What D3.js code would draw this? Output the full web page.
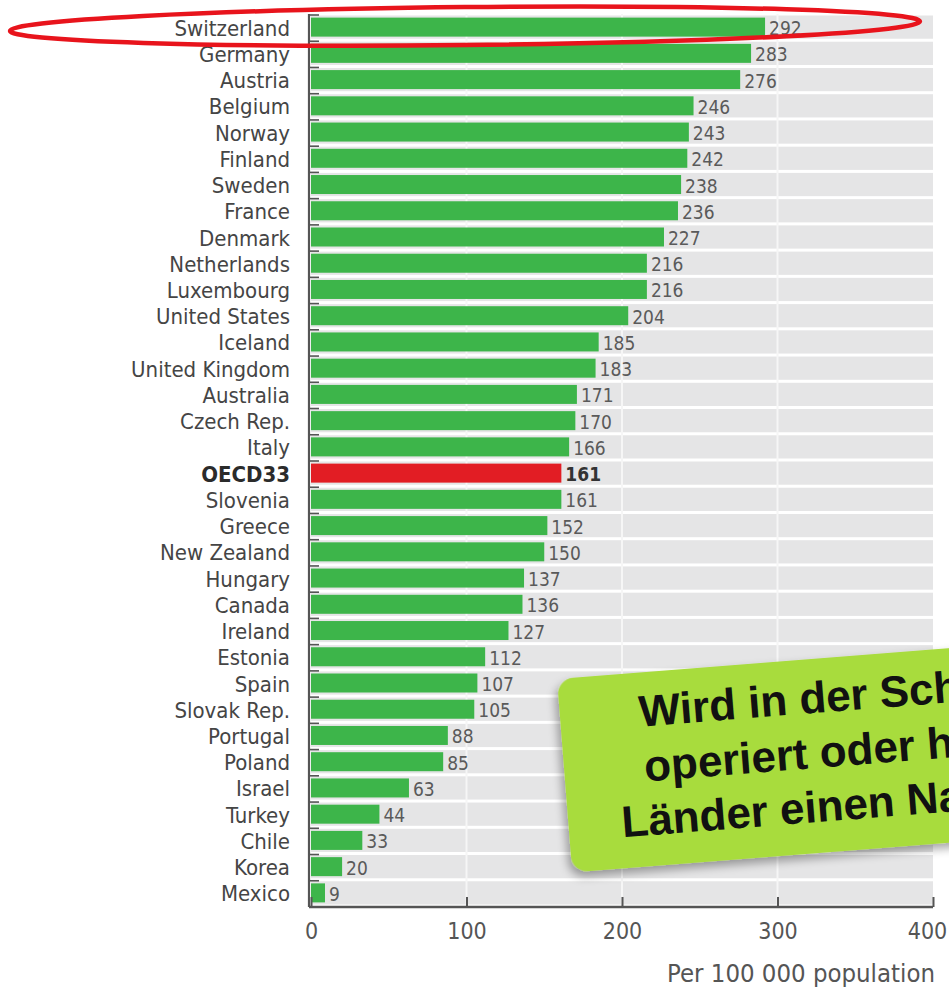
<!DOCTYPE html>
<html>
<head>
<meta charset="utf-8">
<script src="https://cdn.jsdelivr.net/npm/d3@7"></script>
<style>
  html, body { margin: 0; padding: 0; background: #ffffff; }
  svg { display: block; }
</style>
</head>
<body>
<svg id="chart" width="949" height="990"></svg>
<script>
const countries = ["Switzerland","Germany","Austria","Belgium","Norway","Finland","Sweden","France","Denmark","Netherlands","Luxembourg","United States","Iceland","United Kingdom","Australia","Czech Rep.","Italy","OECD33","Slovenia","Greece","New Zealand","Hungary","Canada","Ireland","Estonia","Spain","Slovak Rep.","Portugal","Poland","Israel","Turkey","Chile","Korea","Mexico"];
const values = [292,283,276,246,243,242,238,236,227,216,216,204,185,183,171,170,166,161,161,152,150,137,136,127,112,107,105,88,85,63,44,33,20,9];
const highlight = "OECD33";
const xTicks = [0,100,200,300,400];
const axisTitle = "Per 100 000 population";
const noteLines = ["Wird in der Schweiz","operiert oder haben","Länder einen Nachholbedarf?"];

const svg = d3.select("#chart");
const condensed = "'DejaVu Sans Condensed','Liberation Sans Narrow',sans-serif";

const x = d3.scaleLinear().domain([0, 400]).range([311, 933]);
const y = d3.scaleBand().domain(countries).range([14, 906]).paddingInner(0);
const step = y.bandwidth();
const barH = 19;

const defs = svg.append("defs");
const f = defs.append("filter").attr("id","shadow").attr("x","-20%").attr("y","-20%").attr("width","140%").attr("height","150%");
f.append("feDropShadow").attr("dx",-3).attr("dy",5).attr("stdDeviation",5).attr("flood-color","#000").attr("flood-opacity",0.35);

// gray row bands
svg.append("g").selectAll("rect").data(countries).join("rect")
  .attr("x", x(0)).attr("width", x(400) - x(0))
  .attr("y", d => y(d) + 1.5).attr("height", step - 3)
  .attr("fill", "#e5e5e6");

// white vertical grid lines
svg.append("g").selectAll("line").data(xTicks.slice(1, -1)).join("line")
  .attr("x1", d => x(d)).attr("x2", d => x(d))
  .attr("y1", 14).attr("y2", 906)
  .attr("stroke", "#f6f6f6").attr("stroke-width", 2);

// bars
svg.append("g").selectAll("rect").data(countries).join("rect")
  .attr("x", x(0))
  .attr("y", d => y(d) + (step - barH) / 2)
  .attr("height", barH)
  .attr("width", (d, i) => x(values[i]) - x(0))
  .attr("fill", d => d === highlight ? "#e21d24" : "#3db54a");

// value labels
svg.append("g").selectAll("text").data(countries).join("text")
  .attr("x", (d, i) => x(values[i]) + 4)
  .attr("y", d => y(d) + step / 2 + 1)
  .attr("dominant-baseline", "central")
  .attr("font-family", condensed)
  .attr("font-size", 19)
  .attr("font-weight", d => d === highlight ? "bold" : "normal")
  .attr("fill", d => d === highlight ? "#333" : "#5a5a5a")
  .text((d, i) => values[i]);

// country labels
svg.append("g").selectAll("text").data(countries).join("text")
  .attr("x", 290)
  .attr("y", d => y(d) + step / 2 + 1)
  .attr("text-anchor", "end")
  .attr("dominant-baseline", "central")
  .attr("font-family", condensed)
  .attr("font-size", 22)
  .attr("font-weight", d => d === highlight ? "bold" : "normal")
  .attr("fill", d => d === highlight ? "#2b2b2b" : "#454545")
  .text(d => d);

// left axis with row-boundary ticks
const leftAxis = svg.append("g");
leftAxis.append("line").attr("x1", 309).attr("x2", 309).attr("y1", 14).attr("y2", 907)
  .attr("stroke", "#555").attr("stroke-width", 2.2);
leftAxis.selectAll("line.rt").data(countries).join("line").attr("class","rt")
  .attr("x1", 309).attr("x2", 319)
  .attr("y1", d => y(d) + 1).attr("y2", d => y(d) + 1)
  .attr("stroke", "#555").attr("stroke-width", 1.6);

// bottom axis
const bottomAxis = d3.axisBottom(x).tickValues(xTicks).tickSize(0).tickPadding(16).tickFormat(d3.format("d"));
const gx = svg.append("g").attr("transform", "translate(0,907)").call(bottomAxis);
gx.select(".domain").attr("stroke", "#555").attr("stroke-width", 2.5).attr("d", `M309,0H933`);
gx.selectAll(".tick line").remove();
gx.selectAll(".tick").append("line").attr("y1", 0).attr("y2", -10).attr("stroke", "#555").attr("stroke-width", 2);
gx.selectAll(".tick text").attr("font-family", condensed).attr("font-size", 23).attr("fill", "#555")
  .attr("dx", d => d === 400 ? -6 : 0);

svg.append("text").attr("x", 935).attr("y", 982).attr("text-anchor", "end")
  .attr("font-family", condensed).attr("font-size", 25.5).attr("fill", "#555")
  .text(axisTitle);

// red ellipse highlighting Switzerland
svg.append("ellipse")
  .attr("cx", 465).attr("cy", y("Switzerland") + step / 2 - 1)
  .attr("rx", 455).attr("ry", 19)
  .attr("transform", `rotate(-0.6,465,${y("Switzerland") + step / 2})`)
  .attr("fill", "none").attr("stroke", "#e8141c").attr("stroke-width", 4.5);

// green sticky note
const note = svg.append("g").attr("transform", "translate(557,679) rotate(-4.5)");
note.append("rect").attr("x", 0).attr("y", 0).attr("width", 460).attr("height", 194).attr("rx", 16)
  .attr("fill", "#a8dc3e").attr("filter", "url(#shadow)");
const noteX = [79, 80, 53];
const noteY = [54, 109, 163];
note.selectAll("text").data(noteLines).join("text")
  .attr("x", (d, i) => noteX[i]).attr("y", (d, i) => noteY[i])
  .attr("font-family", "'Liberation Sans', Arial, sans-serif")
  .attr("font-weight", "bold").attr("font-size", 44).attr("fill", "#111")
  .text(d => d);
</script>
</body>
</html>
